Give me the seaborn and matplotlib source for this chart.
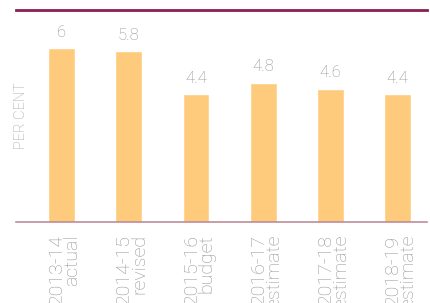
import matplotlib
matplotlib.use("Agg")
import matplotlib.pyplot as plt
import matplotlib.transforms as mtransforms
import seaborn as sns
import pandas as pd

periods = ["2013-14", "2014-15", "2015-16", "2016-17", "2017-18", "2018-19"]
kinds = ["actual", "revised", "budget", "estimate", "estimate", "estimate"]
values = [6.0, 5.9, 4.4, 4.8, 4.6, 4.4]
value_labels = ["6", "5.8", "4.4", "4.8", "4.6", "4.4"]

labels = [f"{p}\n{k}" for p, k in zip(periods, kinds)]
df = pd.DataFrame({"label": labels, "value": values})

sns.set_style("white")
plt.rcParams["font.family"] = ["Roboto", "DejaVu Sans"]

fig = plt.figure(figsize=(4.31, 3.03), dpi=100)
ax = fig.add_axes([16 / 431, 1 - 222 / 303, 411 / 431, 212 / 303])

sns.barplot(data=df, x="label", y="value", color="#FECB7C", width=0.4,
            saturation=1, ax=ax)

ax.set_xlim(-0.68, 5.44)
ax.set_ylim(0, 7.31)
ax.set_xlabel("")
ax.set_ylabel("")
ax.set_yticks([])

for s in ["left", "right"]:
    ax.spines[s].set_visible(False)
ax.spines["top"].set_color("#8B1E4F")
ax.spines["top"].set_linewidth(2)
ax.spines["bottom"].set_color("#B9828F")
ax.spines["bottom"].set_linewidth(1.1)

for i, (v, t) in enumerate(zip(values, value_labels)):
    ax.annotate(t, (i, v), xytext=(0, 6), textcoords="offset points",
                ha="center", va="bottom", color="#959595", fontsize=12,
                fontweight="light")

ax.set_xticks(range(len(labels)))
ax.set_xticklabels(labels, rotation=90, ha="center", va="top",
                   multialignment="right", color="#959595", fontsize=14,
                   fontweight="light", linespacing=0.8)
ax.tick_params(axis="x", length=0, pad=9)
shift = mtransforms.ScaledTranslation(3 / 100, 0, fig.dpi_scale_trans)
for lbl in ax.get_xticklabels():
    lbl.set_transform(lbl.get_transform() + shift)

ax.text(0.013, 0.5, "PER CENT", transform=ax.transAxes, rotation=90,
        ha="center", va="center", color="#A0A0A0", fontsize=10.5,
        fontweight="light")

fig.savefig("out.png", dpi=100)
